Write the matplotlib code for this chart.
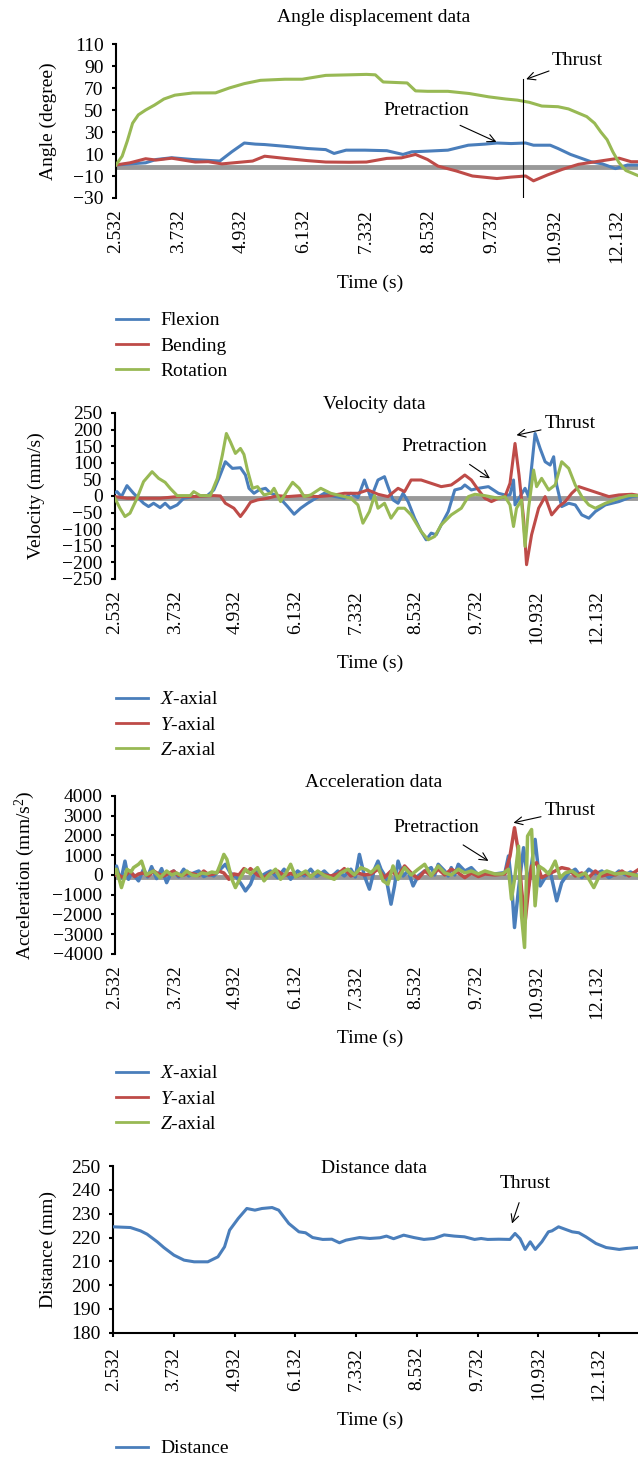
import matplotlib
matplotlib.use("Agg")
import matplotlib.pyplot as plt
from matplotlib.lines import Line2D
import numpy as np

plt.rcParams['font.family'] = ['Liberation Serif', 'DejaVu Serif']
plt.rcParams['mathtext.fontset'] = 'custom'
plt.rcParams['mathtext.rm'] = 'Liberation Serif'
plt.rcParams['mathtext.it'] = 'Liberation Serif:italic'

BLUE = '#4a7ebb'
RED = '#be4b48'
GREEN = '#98b954'
GRAY = '#999999'

tick_times = [2.532, 3.732, 4.932, 6.132, 7.332, 8.532, 9.732, 10.932, 12.132]
tick_labels = ['2.532', '3.732', '4.932', '6.132', '7.332', '8.532', '9.732', '10.932', '12.132']

# ---- angle displacement (degree)
flex_t = [2.53, 2.8, 3.1, 3.3, 3.6, 4.0, 4.52, 4.75, 4.99, 5.2, 5.38, 5.77, 6.2, 6.55, 6.71, 6.94,
          7.3, 7.72, 8.03, 8.2, 8.5, 8.89, 9.28, 9.6, 9.83, 10.1, 10.38, 10.53, 10.85, 11.0, 11.24,
          11.63, 11.85, 12.1, 12.33, 12.55]
flex_v = [0, 1, 2, 5, 6.6, 5, 3.6, 12, 20, 19, 18.6, 17, 15, 14, 10.5, 13.5,
          13.5, 13, 9.6, 12, 12.6, 13.5, 18, 19, 20, 19.5, 20, 18, 18, 15, 9.6,
          3, 1, -3.3, 0, 0]
bend_t = [2.53, 2.8, 3.1, 3.3, 3.6, 4.05, 4.3, 4.56, 5.15, 5.38, 5.77, 6.2, 6.55, 7.0, 7.33, 7.72,
          8.0, 8.27, 8.5, 8.7, 9.05, 9.36, 9.83, 10.1, 10.38, 10.53, 10.8, 11.08, 11.39, 11.86,
          12.17, 12.4, 12.55]
bend_v = [0, 2, 5.7, 4.5, 6.2, 2.7, 3, 1, 3.6, 8, 6, 4, 2.7, 2.5, 2.7, 6,
          6.5, 9.6, 5, -1, -5.4, -10, -12.3, -11, -10, -14.4, -9, -4, 0.6, 4,
          6.2, 3, 3]
rot_t = [2.53, 2.65, 2.75, 2.85, 2.96, 3.1, 3.27, 3.45, 3.66, 4.0, 4.44, 4.7, 4.99, 5.3, 5.77,
         6.1, 6.55, 7.0, 7.33, 7.5, 7.65, 8.11, 8.27, 8.5, 8.89, 9.3, 9.67, 10.0, 10.22, 10.45,
         10.69, 11.0, 11.2, 11.4, 11.55, 11.7, 11.82, 11.94, 12.05, 12.17, 12.3, 12.55]
rot_v = [0, 8, 22, 38, 45.6, 50, 54.5, 60, 63.5, 65.5, 65.6, 70, 74, 77, 78,
         78, 81.5, 82, 82.4, 82, 75.5, 74.6, 67.4, 67, 67, 65, 62, 60, 59, 57,
         53.6, 53, 51, 47, 44, 38, 30, 23, 12, 2, -5, -10]
thrust_t = 10.335

# ---- velocity (mm/s)
velx_t = [2.53, 2.57, 2.66, 2.77, 2.9, 3.1, 3.2, 3.3, 3.43, 3.53, 3.63, 3.77, 3.9, 4.1, 4.37, 4.5,
          4.6, 4.73, 4.87, 5.03, 5.13, 5.2, 5.3, 5.4, 5.53, 5.63, 5.77, 5.97, 6.1, 6.23, 6.37,
          6.53, 6.7, 6.83, 7.1, 7.23, 7.37, 7.5, 7.63, 7.77, 7.9, 7.97, 8.07, 8.17, 8.27, 8.37,
          8.5, 8.63, 8.73, 8.83, 8.93, 9.03, 9.17, 9.3, 9.43, 9.5, 9.63, 9.77, 9.97, 10.17, 10.3,
          10.4, 10.47, 10.5, 10.6, 10.7, 10.77, 10.9, 11.0, 11.1, 11.2, 11.27, 11.33, 11.43,
          11.57, 11.7, 11.83, 11.97, 12.1, 12.3, 12.57, 12.83, 12.99]
velx_v = [10, 13, -2, 31, 8, -22, -32, -22, -35, -22, -37, -27, -7, -2, 1, 18,
          53, 103, 83, 85, 63, 23, 8, 18, 23, 8, 1, -32, -55, -37, -22,
          -7, 8, 1, -7, 8, -5, 48, -7, 48, 58, 28, -12, -22, 8, -17,
          -67, -107, -132, -112, -117, -87, -47, 18, 23, 33, 18, 23, 28, 8, 3,
          3, 48, -27, -2, 23, -2, 188, 143, 103, 93, 118, 33, -32,
          -22, -27, -57, -67, -47, -27, -17, -2, 1]
vely_t = [2.53, 2.77, 3.1, 3.43, 3.77, 4.1, 4.5, 4.63, 4.73, 4.9, 5.03, 5.13, 5.23, 5.37, 5.57,
          5.77, 5.97, 6.23, 6.57, 6.83, 7.1, 7.37, 7.57, 7.77, 7.97, 8.17, 8.3, 8.43, 8.63, 8.83,
          9.03, 9.23, 9.37, 9.5, 9.63, 9.77, 9.9, 10.03, 10.17, 10.3, 10.4, 10.5, 10.58, 10.67,
          10.73, 10.83, 10.97, 11.1, 11.23, 11.37, 11.5, 11.63, 11.77, 11.97, 12.17, 12.37,
          12.57, 12.83, 12.99]
vely_v = [-2, -7, -7, -7, -2, -2, 1, 0, -22, -37, -62, -42, -19, -12, -7,
          1, -2, 1, -2, 1, 8, 8, 18, 5, -2, 23, 13, 48, 48, 38,
          28, 33, 48, 63, 48, 18, -7, -17, -7, -2, 38, 158, 63, -67,
          -207, -117, -37, -2, -57, -32, -17, 8, 28, 18, 8, -2,
          3, 5, 1]
velz_t = [2.53, 2.63, 2.73, 2.83, 2.97, 3.1, 3.27, 3.4, 3.53, 3.63, 3.77, 4.03, 4.1, 4.23, 4.43,
          4.57, 4.67, 4.75, 4.83, 4.93, 5.03, 5.1, 5.17, 5.27, 5.37, 5.5, 5.63, 5.7, 5.83, 5.97,
          6.07, 6.2, 6.3, 6.43, 6.63, 6.83, 7.1, 7.23, 7.37, 7.47, 7.6, 7.7, 7.77, 7.9, 8.03,
          8.17, 8.3, 8.43, 8.63, 8.77, 8.9, 9.03, 9.23, 9.43, 9.57, 9.7, 9.9, 10.17, 10.3, 10.4,
          10.47, 10.53, 10.63, 10.7, 10.77, 10.87, 10.93, 11.03, 11.17, 11.3, 11.43, 11.57,
          11.7, 11.83, 11.97, 12.1, 12.3, 12.57, 12.77, 12.99]
velz_v = [-7, -37, -62, -52, -7, 43, 73, 53, 41, 23, 1, 1, 13, 1, 1,
          53, 123, 188, 163, 128, 143, 125, 78, 23, 28, 3, 8, 23, -17, 18,
          41, 23, -2, 3, 23, 8, -2, -7, -27, -82, -47, 1, -37, -22, -67,
          -37, -37, -57, -107, -132, -122, -87, -57, -37, -2, 5, 1, -7, -2, -27,
          -92, -37, -12, -152, -37, 78, 28, 53, 18, 33, 103, 83,
          33, -2, -27, -37, -22, -7, 1, 1]

# ---- acceleration (mm/s^2)
accx_t = [2.53, 2.56, 2.61, 2.66, 2.73, 2.8, 2.86, 2.92, 3.0, 3.05, 3.1, 3.18, 3.26, 3.36, 3.46,
          3.56, 3.63, 3.7, 3.8, 3.9, 4.0, 4.1, 4.2, 4.3, 4.4, 4.5, 4.63, 4.73, 4.83, 4.96, 5.07,
          5.13, 5.23, 5.3, 5.37, 5.45, 5.55, 5.63, 5.77, 5.9, 6.03, 6.1, 6.17, 6.3, 6.43, 6.55,
          6.7, 6.83, 6.97, 7.1, 7.23, 7.32, 7.4, 7.5, 7.6, 7.7, 7.77, 7.83, 7.93, 8.03, 8.1,
          8.17, 8.27, 8.37, 8.47, 8.57, 8.7, 8.83, 8.9, 8.97, 9.1, 9.17, 9.23, 9.3, 9.37, 9.5,
          9.63, 9.75, 9.9, 10.1, 10.3, 10.37, 10.43, 10.49, 10.57, 10.67, 10.77, 10.9, 11.0,
          11.1, 11.2, 11.33, 11.43, 11.55, 11.7, 11.83, 11.97, 12.1, 12.23, 12.37, 12.5, 12.57,
          12.7, 12.8, 12.97]
accx_v = [200, 450, 0, -150, 700, -220, 100, -50, -300, 0, 290, -100, 420, -185, 320,
          -390, 0, 200, -100, 290, -50, 100, 200, -80, 50, -50, 290, 540, 100, -135, -555,
          -810, -470, 0, 290, -50, 100, 200, -135, 290, -220, 0, 200, -50, 290, -80,
          200, -130, 200, -50, 290, -100, 1040, -50, -720, 290, 700, 290, -135, -1480, -555,
          700, -50, 200, -555, -50, 200, 370, 0, 540, 200, -50, 370, 0, 540, 200,
          370, 50, 100, 50, 120, 960, -390, -2660, -720, 1380, -555, 1800, -555,
          -135, 200, -1310, -390, 50, 290, -135, 290, 50, 200, -135, 50, 200,
          0, 150, -50]
accy_t = [2.53, 2.56, 2.63, 2.7, 2.77, 2.83, 2.92, 3.0, 3.1, 3.2, 3.3, 3.4, 3.5, 3.6, 3.7, 3.8,
          3.9, 4.0, 4.1, 4.2, 4.3, 4.4, 4.5, 4.6, 4.7, 4.8, 4.9, 5.0, 5.1, 5.17, 5.23, 5.37,
          5.5, 5.63, 5.77, 5.9, 6.03, 6.17, 6.3, 6.43, 6.57, 6.7, 6.83, 6.97, 7.1, 7.23, 7.37,
          7.5, 7.63, 7.77, 7.9, 8.03, 8.17, 8.3, 8.43, 8.57, 8.7, 8.83, 8.97, 9.1, 9.23, 9.37,
          9.5, 9.63, 9.77, 9.9, 10.1, 10.3, 10.4, 10.49, 10.57, 10.63, 10.7, 10.77, 10.83,
          10.93, 11.03, 11.17, 11.3, 11.43, 11.57, 11.7, 11.83, 11.97, 12.1, 12.23, 12.37,
          12.5, 12.63, 12.77, 12.97]
accy_v = [0, 120, -50, -135, 50, 200, -80, 50, 100, -50, 200, 50, -50, 80, 200, -30,
          0, 100, 50, -30, 200, 0, 50, 200, 100, -220, 50, 0, 320, 150, 320, 0,
          -135, 100, 200, -30, 80, -50, 100, -50, 150, 0, -50, 50, 320, -50, 100,
          0, 50, 290, -130, 200, -50, 455, 100, -185, 200, -30, 290, 0, 290, 100,
          -135, 100, -80, 50, 0, 50, 960, 2390, 1130, -720, -2400, -720, 455,
          620, -135, 50, 200, 370, 290, -50, 100, -130, 200, -50, 50,
          0, 200, -50, 290]
accz_t = [2.53, 2.56, 2.66, 2.77, 2.85, 2.9, 3.0, 3.06, 3.15, 3.22, 3.3, 3.43, 3.56, 3.66, 3.76,
          3.86, 3.96, 4.06, 4.16, 4.26, 4.36, 4.46, 4.56, 4.63, 4.7, 4.76, 4.86, 4.93, 5.03, 5.13,
          5.23, 5.37, 5.5, 5.6, 5.73, 5.83, 5.93, 6.03, 6.13, 6.23, 6.33, 6.43, 6.57, 6.7, 6.9,
          7.03, 7.17, 7.3, 7.43, 7.55, 7.63, 7.77, 7.87, 7.97, 8.07, 8.17, 8.3, 8.43, 8.57, 8.7,
          8.83, 8.97, 9.1, 9.23, 9.37, 9.5, 9.63, 9.77, 9.9, 10.1, 10.25, 10.37, 10.43, 10.5,
          10.57, 10.63, 10.69, 10.75, 10.83, 10.9, 10.97, 11.07, 11.17, 11.3, 11.4, 11.5, 11.63,
          11.77, 11.9, 12.07, 12.2, 12.33, 12.5, 12.7, 12.97]
accz_v = [100, 290, -640, 290, 150, 370, 540, 700, 0, 100, 200, -135, 200, 0, 100,
          -50, 200, 0, -50, 100, 50, 150, 100, 540, 1040, 790, -220, -640, -135, 290,
          50, 370, -300, 0, 290, -220, 50, 540, -100, 50, 200, -100, 200, -30, -220,
          100, 290, 0, 370, 250, 120, 455, -300, -470, 455, -220, 370, 0, 290, 540,
          -50, 455, 100, 0, 290, 100, 200, 50, 200, 50, 50, 290, -1230, -50,
          1460, -2070, -3670, 1970, 2300, -1560, 455, 290, 50, 700, -130, 100, 200,
          -50, 100, -640, 50, 200, 50, 100, -50]

# ---- distance (mm)
dist_t = [2.53, 2.87, 3.07, 3.2, 3.4, 3.53, 3.73, 3.93, 4.13, 4.4, 4.6, 4.73, 4.83, 5.0, 5.17,
          5.33, 5.47, 5.67, 5.8, 6.0, 6.2, 6.33, 6.47, 6.67, 6.85, 7.0, 7.13, 7.4, 7.6, 7.8,
          7.93, 8.07, 8.27, 8.47, 8.67, 8.87, 9.07, 9.27, 9.47, 9.67, 9.8, 9.93, 10.15, 10.37,
          10.47, 10.57, 10.67, 10.77, 10.87, 11.0, 11.13, 11.2, 11.33, 11.47, 11.6, 11.73,
          11.87, 12.07, 12.27, 12.53, 12.67, 12.9]
dist_v = [224.5, 224.2, 222.8, 221.4, 218.2, 215.8, 212.6, 210.5, 209.8, 209.8, 211.9, 216.1,
          223.1, 228, 232.2, 231.5, 232.2, 232.6, 231.5, 225.9, 222.4, 222, 220, 219.2, 219.3,
          217.8, 218.9, 220, 219.6, 219.9, 220.6, 219.5, 221, 220, 219.2, 219.6, 221.1, 220.6,
          220.3, 219.2, 219.6, 219.2, 219.3, 219.2, 221.7, 219.5, 215, 218.2, 215, 218.2,
          222.4, 222.8, 224.5, 223.4, 222.4, 222, 220.3, 217.5, 215.8, 215, 215.4, 215.8]

fig = plt.figure(figsize=(6.38, 14.58), dpi=100)
FS = 14
LW = 2.2

ax1 = fig.add_axes([0.1818, 0.8642, 0.8182, 0.1056])
ax2 = fig.add_axes([0.1803, 0.6029, 0.8197, 0.1139])
ax3 = fig.add_axes([0.1803, 0.3457, 0.8197, 0.1084])
ax4 = fig.add_axes([0.1776, 0.0859, 0.8224, 0.1143])


def style(ax, xmax, ylim, yticks, bottom_axis=False):
    ax.set_xlim(2.532, xmax)
    ax.set_ylim(*ylim)
    ax.set_yticks(yticks)
    ax.set_xticks(tick_times)
    ax.set_xticklabels(tick_labels, rotation=90, fontsize=FS)
    ax.tick_params(axis='y', labelsize=FS, length=3, width=1.5, direction='out', pad=6)
    for s in ['top', 'right']:
        ax.spines[s].set_visible(False)
    ax.spines['left'].set_linewidth(1.5)
    if bottom_axis:
        ax.spines['bottom'].set_linewidth(1.5)
        ax.tick_params(axis='x', length=3, width=1.5, pad=7)
    else:
        ax.spines['bottom'].set_visible(False)
        ax.tick_params(axis='x', length=0, pad=8)


# angle
style(ax1, 12.532, (-30, 110), np.arange(-30, 111, 20))
ax1.axhline(-2, color=GRAY, lw=3.5, zorder=1)
ax1.plot(flex_t, flex_v, color=BLUE, lw=LW, zorder=3)
ax1.plot(bend_t, bend_v, color=RED, lw=LW, zorder=3)
ax1.plot(rot_t, rot_v, color=GREEN, lw=LW, zorder=3)
ax1.plot([thrust_t, thrust_t], [-30, 78], color='black', lw=0.8, zorder=4)
ax1.annotate('Thrust', xy=(10.39, 78), xytext=(10.88, 94.8), fontsize=FS, va='center',
             arrowprops=dict(arrowstyle='->', lw=0.8, color='black', shrinkA=0, shrinkB=0))
ax1.annotate('Pretraction', xy=(9.82, 21), xytext=(8.48, 50), fontsize=FS, ha='center', va='center',
             arrowprops=dict(arrowstyle='->', lw=0.8, color='black', shrinkA=7, shrinkB=0))

# velocity
style(ax2, 12.95, (-250, 250), np.arange(-250, 251, 50))
ax2.axhline(-7, color=GRAY, lw=3.5, zorder=1)
ax2.plot(velx_t, velx_v, color=BLUE, lw=LW, zorder=3)
ax2.plot(vely_t, vely_v, color=RED, lw=LW, zorder=3)
ax2.plot(velz_t, velz_v, color=GREEN, lw=LW, zorder=3)
ax2.annotate('Thrust', xy=(10.53, 183), xytext=(11.1, 218), fontsize=FS, va='center',
             arrowprops=dict(arrowstyle='->', lw=0.8, color='black', shrinkA=1, shrinkB=0))
ax2.annotate('Pretraction', xy=(10.0, 53), xytext=(8.23, 148), fontsize=FS, va='center',
             arrowprops=dict(arrowstyle='->', lw=0.8, color='black', shrinkA=8, shrinkB=0))

# acceleration
style(ax3, 12.95, (-4000, 4000), np.arange(-4000, 4001, 1000))
ax3.axhline(-100, color=GRAY, lw=3.5, zorder=1)
ax3.plot(accx_t, accx_v, color=BLUE, lw=2.5, zorder=3)
ax3.plot(accy_t, accy_v, color=RED, lw=2.5, zorder=3)
ax3.plot(accz_t, accz_v, color=GREEN, lw=2.5, zorder=3)
ax3.annotate('Thrust', xy=(10.47, 2640), xytext=(11.1, 3280), fontsize=FS, va='center',
             arrowprops=dict(arrowstyle='->', lw=0.8, color='black', shrinkA=1, shrinkB=0))
ax3.annotate('Pretraction', xy=(9.97, 710), xytext=(8.07, 2390), fontsize=FS, va='center',
             arrowprops=dict(arrowstyle='->', lw=0.8, color='black', shrinkA=8, shrinkB=0))

# distance
style(ax4, 12.9, (180, 250), np.arange(180, 251, 10), bottom_axis=True)
ax4.plot(dist_t, dist_v, color=BLUE, lw=LW, zorder=3)
ax4.annotate('Thrust', xy=(10.41, 225.9), xytext=(10.68, 242.7), fontsize=FS, ha='center',
             va='center',
             arrowprops=dict(arrowstyle='->', lw=0.8, color='black', shrinkA=6, shrinkB=0))

# titles, axis labels
titles = [('Angle displacement data', 0.9877), ('Velocity data', 0.7225),
          ('Acceleration data', 0.4632), ('Distance data', 0.1989)]
for txt, y in titles:
    fig.text(0.586, y, txt, fontsize=FS, ha='center', va='center')
for y in [0.806, 0.5453, 0.288, 0.026]:
    fig.text(0.58, y, 'Time (s)', fontsize=FS, ha='center', va='center')
ylabels = [('Angle (degree)', 0.0752, 0.917), ('Velocity (mm/s)', 0.0564, 0.6598),
           ('Acceleration (mm/s$^2$)', 0.0392, 0.3999), ('Distance (mm)', 0.0752, 0.1433)]
for txt, x, y in ylabels:
    fig.text(x, y, txt, fontsize=FS, ha='center', va='center', rotation=90)


def legend(labels, colors, y):
    handles = [Line2D([0], [0], color=c, lw=2) for c in colors]
    fig.legend(handles, labels, loc='center left', bbox_to_anchor=(116 / 638, y),
               frameon=False, fontsize=FS, borderpad=0, borderaxespad=0,
               handlelength=1.65, handletextpad=0.62, labelspacing=0.4)


legend(['Flexion', 'Bending', 'Rotation'], [BLUE, RED, GREEN], 0.7627)
legend(['$X$-axial', '$Y$-axial', '$Z$-axial'], [BLUE, RED, GREEN], 0.5027)
legend(['$X$-axial', '$Y$-axial', '$Z$-axial'], [BLUE, RED, GREEN], 0.2462)
legend(['Distance'], [BLUE], 0.0065)

fig.savefig('out.png', dpi=100)
